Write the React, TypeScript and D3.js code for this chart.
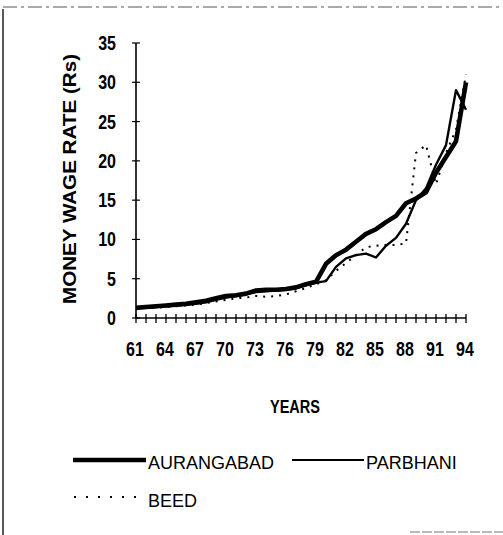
import * as d3 from 'd3';
import React from 'react';

// years 1961 .. 1994, shown as two-digit labels
const years = d3.range(61, 95);
const yearLabels = [61, 64, 67, 70, 73, 76, 79, 82, 85, 88, 91, 94];
const wageTicks = [0, 5, 10, 15, 20, 25, 30, 35];

// money wage rate (Rs)
const aurangabad = [1.3, 1.4, 1.5, 1.6, 1.7, 1.8, 2.0, 2.2, 2.5, 2.8, 2.9, 3.1, 3.5, 3.6, 3.6, 3.7, 3.9, 4.3, 4.6, 6.9, 8.0, 8.7, 9.7, 10.7, 11.3, 12.2, 13.0, 14.6, 15.2, 16.0, 18.5, 20.5, 22.5, 30.0];
const parbhani = [1.2, 1.3, 1.4, 1.5, 1.6, 1.7, 1.8, 2.0, 2.3, 2.6, 2.8, 3.0, 3.3, 3.4, 3.5, 3.6, 3.8, 4.2, 4.5, 4.7, 6.5, 7.6, 8.0, 8.2, 7.7, 9.2, 10.2, 12.0, 15.0, 16.5, 19.5, 22.0, 29.0, 26.5];
const beed = [1.2, 1.3, 1.3, 1.4, 1.5, 1.6, 1.7, 1.9, 2.1, 2.3, 2.5, 2.6, 2.8, 2.7, 2.8, 3.0, 3.4, 3.8, 4.3, 4.8, 6.0, 7.0, 8.0, 9.0, 9.2, 9.3, 9.3, 9.5, 21.0, 22.0, 17.0, 21.0, 24.0, 31.0];

const sans = '"Liberation Sans", Arial, sans-serif';

// condensed bold number, like the narrow face of the scan
function Num({ x, y, anchor, children }: { x: number; y: number; anchor: string; children: React.ReactNode }) {
    return (
        <text transform={`translate(${x},${y}) scale(0.82,1)`} textAnchor={anchor}
            fontFamily={sans} fontWeight="bold" fontSize={19.5}>{children}</text>
    );
}

export default function App() {
    const width = 503;
    const height = 535;

    const x = d3.scaleLinear().domain([61, 94]).range([136, 466]);
    const y = d3.scaleLinear().domain([0, 35]).range([318, 43]);

    const line = d3.line<number>()
        .x((d, i) => x(years[i]))
        .y(d => y(d));

    const series = [
        { name: 'AURANGABAD', values: aurangabad, width: 4.6, dash: null },
        { name: 'PARBHANI', values: parbhani, width: 2.4, dash: null },
        { name: 'BEED', values: beed, width: 2, dash: '2,6' },
    ];

    return (
        <div style={{ position: 'absolute', left: 0, top: 0 }}>
            <svg width={width} height={height} style={{ display: 'block', background: '#fff' }}>
                {/* scanned frame */}
                <line x1={3} x2={3} y1={9} y2={535} stroke="#222" strokeWidth={1.5} />
                <line x1={3} x2={503} y1={7} y2={7} stroke="#555" strokeWidth={1} strokeDasharray="14,4,3,4" />
                <line x1={410} x2={503} y1={532} y2={532} stroke="#777" strokeWidth={1} strokeDasharray="10,2" />

                {/* y axis */}
                <line x1={x(61)} x2={x(61)} y1={y(35)} y2={y(0)} stroke="#000" strokeWidth={1.6} />
                {wageTicks.map(t => (
                    <g key={'y' + t}>
                        <line x1={x(61) - 4} x2={x(61) + 4} y1={y(t)} y2={y(t)} stroke="#000" strokeWidth={1.2} />
                        <Num x={116} y={y(t) + 7} anchor="end">{t}</Num>
                    </g>
                ))}

                {/* x axis */}
                <line x1={x(61)} x2={x(94)} y1={y(0)} y2={y(0)} stroke="#000" strokeWidth={1.4} />
                {years.map(yr => (
                    <line key={'x' + yr} x1={x(yr)} x2={x(yr)} y1={y(0) - 4} y2={y(0) + 5} stroke="#000" strokeWidth={1.3} />
                ))}
                {yearLabels.map(yr => (
                    <Num key={'l' + yr} x={x(yr) - 1} y={356} anchor="middle">{yr}</Num>
                ))}

                {/* lines */}
                {series.map(s => (
                    <path key={s.name} d={line(s.values) || ''} fill="none" stroke="#000"
                        strokeWidth={s.width} strokeDasharray={s.dash || undefined} strokeLinejoin="round" />
                ))}

                {/* axis titles */}
                <text transform="translate(76,179) rotate(-90)" textAnchor="middle" fontFamily={sans} fontWeight="bold"
                    fontSize={19} textLength={250} lengthAdjust="spacingAndGlyphs">MONEY WAGE RATE (Rs)</text>
                <text x={295} y={413} textAnchor="middle" fontFamily={sans} fontWeight="bold" fontSize={19}
                    textLength={50} lengthAdjust="spacingAndGlyphs">YEARS</text>

                {/* legend */}
                <line x1={73} x2={146} y1={460} y2={460} stroke="#000" strokeWidth={4.6} />
                <text x={148} y={469} fontFamily={sans} fontSize={18}>AURANGABAD</text>
                <line x1={292} x2={364} y1={460} y2={460} stroke="#000" strokeWidth={2} />
                <text x={366} y={469} fontFamily={sans} fontSize={18}>PARBHANI</text>
                <line x1={74} x2={146} y1={497} y2={497} stroke="#000" strokeWidth={2} strokeDasharray="2,10" />
                <text x={148} y={507} fontFamily={sans} fontSize={18}>BEED</text>
            </svg>
        </div>
    );
}
